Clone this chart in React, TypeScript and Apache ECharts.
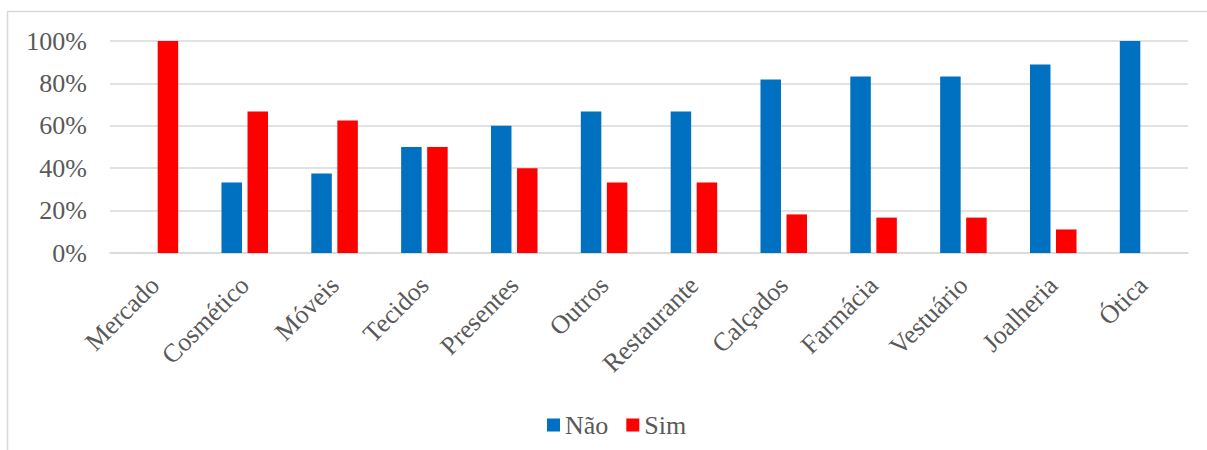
import React, { useEffect, useRef } from "react";
import * as echarts from "echarts";

const categories = ["Mercado", "Cosmético", "Móveis", "Tecidos", "Presentes", "Outros", "Restaurante", "Calçados", "Farmácia", "Vestuário", "Joalheria", "Ótica"];
const naoValues = [0, 33.3, 37.5, 50, 60, 66.7, 66.7, 81.8, 83.3, 83.3, 88.9, 100];
const simValues = [100, 66.7, 62.5, 50, 40, 33.3, 33.3, 18.2, 16.7, 16.7, 11.1, 0];
const seriesNames = ["Não", "Sim"];

const FONT = "Liberation Serif";
const TEXT = "#595959";

export default function App() {
  const ref = useRef<HTMLDivElement>(null);
  useEffect(() => {
    if (!ref.current) return;
    const chart = echarts.init(ref.current, null, { renderer: "svg" });
    chart.setOption({
      animation: false,
      backgroundColor: "#ffffff",
      textStyle: { fontFamily: FONT },
      grid: { left: 110, right: 19, top: 41, bottom: 197, containLabel: false },
      graphic: [
        {
          type: "polyline",
          shape: { points: [[7.5, 460], [7.5, 11.5], [1210, 11.5]] },
          style: { stroke: "#d9d9d9", lineWidth: 1.5, fill: "none" },
          silent: true,
        },
      ],
      legend: {
        left: 542,
        top: 407,
        itemWidth: 13,
        itemHeight: 13,
        itemGap: 18,
        icon: "rect",
        textStyle: { fontFamily: FONT, fontSize: 26, color: TEXT },
        data: seriesNames,
      },
      xAxis: {
        type: "category",
        data: categories,
        axisLine: { show: true, lineStyle: { color: "#d9d9d9", width: 1.5 } },
        axisTick: { show: false },
        axisLabel: {
          rotate: 45,
          interval: 0,
          margin: 28,
          fontFamily: FONT,
          fontSize: 26,
          color: TEXT,
        },
      },
      yAxis: {
        type: "value",
        min: 0,
        max: 100,
        interval: 20,
        axisLine: { show: false },
        axisTick: { show: false },
        splitLine: { lineStyle: { color: "#d9d9d9", width: 1.5 } },
        axisLabel: {
          formatter: "{value}%",
          margin: 23,
          fontFamily: FONT,
          fontSize: 26,
          color: TEXT,
        },
      },
      series: [
        {
          name: seriesNames[0],
          type: "bar",
          data: naoValues,
          barWidth: 20.5,
          barGap: "27%",
          itemStyle: { color: "#0070C0" },
        },
        {
          name: seriesNames[1],
          type: "bar",
          data: simValues,
          barWidth: 20.5,
          barGap: "27%",
          itemStyle: { color: "#FF0000" },
        },
      ],
    });
    return () => chart.dispose();
  }, []);
  return (
    <div
      ref={ref}
      style={{ position: "absolute", left: 0, top: 0, width: 1207, height: 450 }}
    />
  );
}
